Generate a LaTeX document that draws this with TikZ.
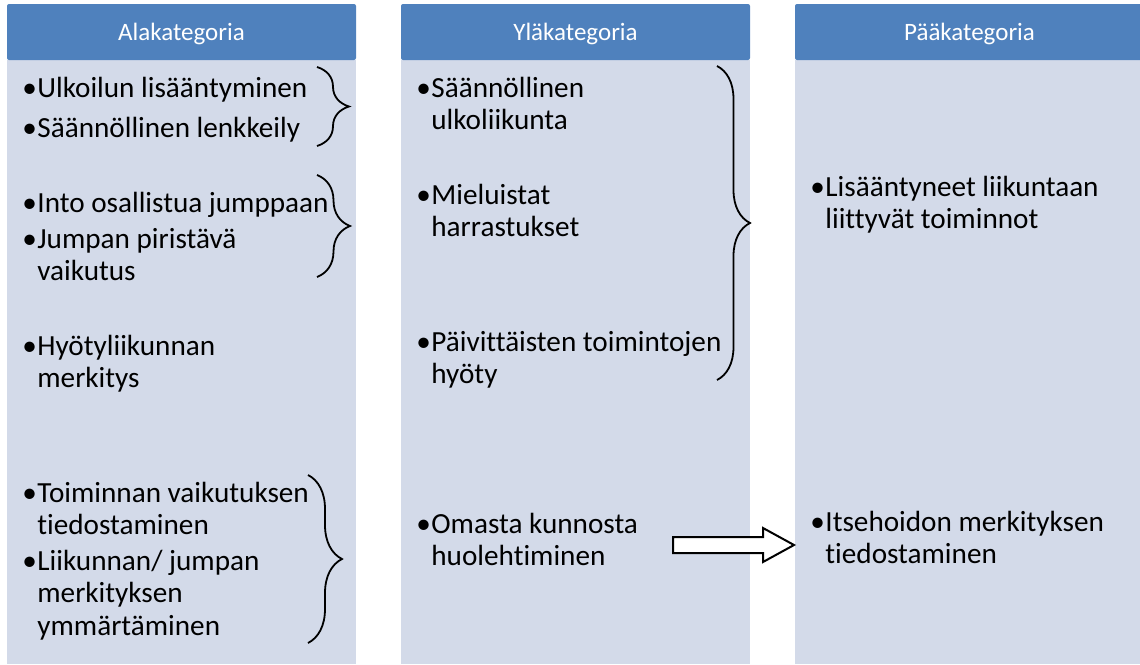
\documentclass[tikz,border=0pt]{standalone}
\usepackage{fontspec}
\setmainfont[Ligatures={NoCommon}]{Carlito}
\usetikzlibrary{decorations.pathreplacing}

\definecolor{headblue}{RGB}{79,129,189}
\definecolor{bodyblue}{RGB}{211,218,233}

\tikzset{
	headbar/.style={fill=headblue, rounded corners=1pt},
	headtext/.style={anchor=base, text=white, inner sep=0pt, font=\fontsize{12.5}{15}\selectfont},
	item/.style={anchor=base west, inner sep=0pt, font=\fontsize{14.6}{16.3}\selectfont},
	curly/.style={decorate, decoration={brace, amplitude=#1}, line width=0.9pt},
}

\begin{document}
\begin{tikzpicture}[x=0.5pt,y=-0.5pt]
		\useasboundingbox (0,0) rectangle (1140,664);
		\clip (0,0) rectangle (1140,664);
		\foreach \n/\x/\t in {ala/7/Alakategoria, yla/401/Yläkategoria, paa/795/Pääkategoria}{
			\fill[bodyblue] (\x,60) rectangle (\x+349,664);
			\fill[headbar] (\x,4) rectangle (\x+349,60);
			\node[headtext] (\n) at (\x+174.5,40) {\t};
		}
		\foreach \n/\x/\y/\t in {
			a1/22/97/{Ulkoilun lisääntyminen},
			a2/22/137/{Säännöllinen lenkkeily},
			a3/22/212/{Into osallistua jumppaan},
			a4/22/248/{Jumpan piristävä\\vaikutus},
			a5/22/355/{Hyötyliikunnan\\merkitys},
			a6/22/502/{Toiminnan vaikutuksen\\tiedostaminen},
			a7/22/570/{Liikunnan/ jumpan\\merkityksen\\ymmärtäminen},
			b1/416/97/{Säännöllinen\\ulkoliikunta},
			b2/416/204/{Mieluistat\\harrastukset},
			b3/416/351/{Päivittäisten toimintojen\\hyöty},
			b4/416/533/{Omasta kunnosta\\huolehtiminen},
			c1/810/196/{Lisääntyneet liikuntaan\\liittyvät toiminnot},
			c2/810/531/{Itsehoidon merkityksen\\tiedostaminen}}{
			\node[item] (d\n) at (\x,\y) {•};
			\node[item] (\n) at (\x+15,\y) {\begin{tabular}[t]{@{}l@{}}\t\end{tabular}};
		}
		\draw[curly=16pt] (317,67)--(317,146);
		\draw[curly=16.5pt] (317,175)--(317,277);
		\draw[curly=17pt] (308,475)--(308,643);
		\draw[curly=16.5pt] (717,66)--(717,380);
		\draw[fill=white, line width=1pt] (673,537)--(763,537)--(763,528)--(794,545)--(763,562)--(763,553)--(673,553)--cycle;
	\end{tikzpicture}
\end{document}
